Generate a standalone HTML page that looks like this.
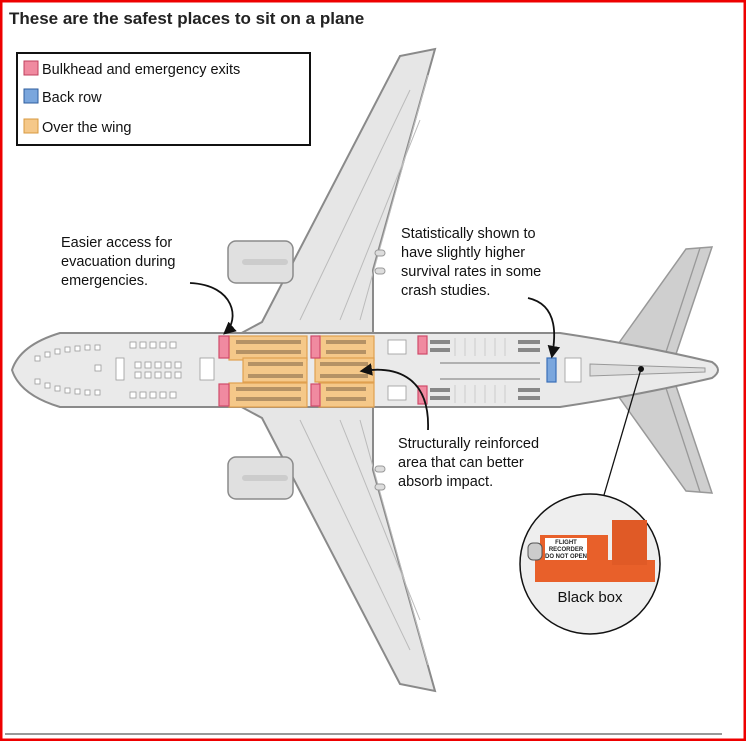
<!DOCTYPE html>
<html><head><meta charset="utf-8"><style>
html,body{margin:0;padding:0;background:#fff}
body{width:746px;height:741px;overflow:hidden}
svg{display:block}
text{font-family:"Liberation Sans",sans-serif}
</style></head><body>
<svg width="746" height="741" viewBox="0 0 746 741" xmlns="http://www.w3.org/2000/svg">
<rect x="1" y="1" width="744" height="739" fill="#fff" stroke="#e00" stroke-width="3"/>
<text x="9" y="24" font-size="17" font-weight="bold" fill="#222">These are the safest places to sit on a plane</text>
<defs>
<marker id="ah" viewBox="0 0 10 10" refX="8" refY="5" markerWidth="7" markerHeight="7" orient="auto"><path d="M0,0 L10,5 L0,10 z" fill="#111"/></marker>
</defs>
<!-- horizontal stabilizers -->
<g fill="#cfcfcf" stroke="#999" stroke-width="1.5">
<path d="M616,347 L686,249 L712,247 L675,357 Z"/>
<path d="M616,393 L686,491 L712,493 L675,383 Z"/>
</g>
<g stroke="#999" stroke-width="1.3"><path d="M700,248 L666,352 M700,492 L666,388"/></g>
<!-- wings -->
<g fill="#e6e6e6" stroke="#8a8a8a" stroke-width="2">
<path d="M236,336 L262,322 L400,56 L435,49 L373,270 L373,336 Z"/>
<path d="M236,404 L262,418 L400,684 L435,691 L373,470 L373,404 Z"/>
</g>
<g stroke="#bbb" stroke-width="1" fill="none">
<path d="M300,320 L410,90 M340,320 L420,120 M360,320 L428,75"/>
<path d="M300,420 L410,650 M340,420 L420,620 M360,420 L428,665"/>
</g>
<!-- engines -->
<g fill="#e0e0e0" stroke="#8a8a8a" stroke-width="1.5">
<rect x="228" y="241" width="65" height="42" rx="8"/>
<rect x="228" y="457" width="65" height="42" rx="8"/>
</g>
<g stroke="#ccc" stroke-width="6" stroke-linecap="round"><path d="M245,262 H285 M245,478 H285"/></g>
<g fill="#ddd" stroke="#999"><rect x="375" y="250" width="10" height="6" rx="3"/><rect x="375" y="268" width="10" height="6" rx="3"/><rect x="375" y="466" width="10" height="6" rx="3"/><rect x="375" y="484" width="10" height="6" rx="3"/></g>
<!-- fuselage -->
<path d="M60,333 L560,333 Q640,345 712,362 Q724,370 712,378 Q640,395 560,407 L60,407 Q20,395 12,370 Q20,345 60,333 Z" fill="#eaeaea" stroke="#8a8a8a" stroke-width="2"/>
<path d="M590,364 L705,368 L705,372 L590,376 Z" fill="#ddd" stroke="#999"/>
<!-- cabin seats gray -->
<g fill="#fff" stroke="#999" stroke-width="0.8">
<rect x="35" y="356" width="5" height="5"/><rect x="45" y="352" width="5" height="5"/><rect x="55" y="349" width="5" height="5"/><rect x="65" y="347" width="5" height="5"/><rect x="75" y="346" width="5" height="5"/><rect x="85" y="345" width="5" height="5"/><rect x="95" y="345" width="5" height="5"/>
<rect x="35" y="379" width="5" height="5"/><rect x="45" y="383" width="5" height="5"/><rect x="55" y="386" width="5" height="5"/><rect x="65" y="388" width="5" height="5"/><rect x="75" y="389" width="5" height="5"/><rect x="85" y="390" width="5" height="5"/><rect x="95" y="390" width="5" height="5"/>
<rect x="130" y="342" width="6" height="6"/><rect x="140" y="342" width="6" height="6"/><rect x="150" y="342" width="6" height="6"/><rect x="160" y="342" width="6" height="6"/><rect x="170" y="342" width="6" height="6"/>
<rect x="130" y="392" width="6" height="6"/><rect x="140" y="392" width="6" height="6"/><rect x="150" y="392" width="6" height="6"/><rect x="160" y="392" width="6" height="6"/><rect x="170" y="392" width="6" height="6"/>
<rect x="95" y="365" width="6" height="6"/><rect x="135" y="362" width="6" height="6"/><rect x="145" y="362" width="6" height="6"/><rect x="155" y="362" width="6" height="6"/><rect x="165" y="362" width="6" height="6"/><rect x="175" y="362" width="6" height="6"/>
<rect x="135" y="372" width="6" height="6"/><rect x="145" y="372" width="6" height="6"/><rect x="155" y="372" width="6" height="6"/><rect x="165" y="372" width="6" height="6"/><rect x="175" y="372" width="6" height="6"/>
<rect x="200" y="358" width="14" height="22"/><rect x="116" y="358" width="8" height="22"/>
</g>
<!-- orange zones -->
<g fill="#f5c889" stroke="#e0a050" stroke-width="1.2">
<rect x="229" y="336" width="78" height="24"/>
<rect x="319" y="336" width="55" height="24"/>
<rect x="243" y="358" width="64" height="24"/>
<rect x="315" y="358" width="59" height="24"/>
<rect x="229" y="383" width="78" height="24"/>
<rect x="319" y="383" width="55" height="24"/>
</g>
<g fill="#9a7a55">
<rect x="236" y="340" width="65" height="4" opacity=".7"/><rect x="236" y="350" width="65" height="4" opacity=".7"/>
<rect x="326" y="340" width="40" height="4" opacity=".7"/><rect x="326" y="350" width="40" height="4" opacity=".7"/>
<rect x="248" y="362" width="55" height="4" opacity=".7"/><rect x="248" y="374" width="55" height="4" opacity=".7"/>
<rect x="320" y="362" width="48" height="4" opacity=".7"/><rect x="320" y="374" width="48" height="4" opacity=".7"/>
<rect x="236" y="387" width="65" height="4" opacity=".7"/><rect x="236" y="397" width="65" height="4" opacity=".7"/>
<rect x="326" y="387" width="40" height="4" opacity=".7"/><rect x="326" y="397" width="40" height="4" opacity=".7"/>
</g>
<!-- pink exits -->
<g fill="#f08aa0" stroke="#d04a6a" stroke-width="1.2">
<rect x="219" y="336" width="10" height="22"/><rect x="219" y="384" width="10" height="22"/>
<rect x="311" y="336" width="9" height="22"/><rect x="311" y="384" width="9" height="22"/>
<rect x="418" y="336" width="9" height="18"/><rect x="418" y="386" width="9" height="18"/>
</g>
<!-- rear economy -->
<g fill="#888">
<rect x="430" y="340" width="20" height="4"/><rect x="430" y="348" width="20" height="4"/>
<rect x="430" y="388" width="20" height="4"/><rect x="430" y="396" width="20" height="4"/>
<rect x="518" y="340" width="22" height="4"/><rect x="518" y="348" width="22" height="4"/>
<rect x="518" y="388" width="22" height="4"/><rect x="518" y="396" width="22" height="4"/>
<rect x="440" y="362" width="100" height="2" opacity=".6"/><rect x="440" y="378" width="100" height="2" opacity=".6"/>
</g>
<g stroke="#ccc" stroke-width="1"><path d="M455,338 V356 M465,338 V356 M475,338 V356 M485,338 V356 M495,338 V356 M505,338 V356 M455,385 V403 M465,385 V403 M475,385 V403 M485,385 V403 M495,385 V403 M505,385 V403"/></g>
<rect x="547" y="358" width="9" height="24" fill="#7aa6dd" stroke="#3a6fb8" stroke-width="1.2"/>
<g fill="#fff" stroke="#999" stroke-width=".8"><rect x="565" y="358" width="16" height="24"/><rect x="388" y="340" width="18" height="14"/><rect x="388" y="386" width="18" height="14"/></g>
<!-- black box leader -->
<circle cx="641" cy="369" r="3" fill="#111"/>
<line x1="641" y1="369" x2="604" y2="495" stroke="#111" stroke-width="1.3"/>
<!-- callout arrows -->
<path d="M190,283 C235,285 240,320 225,333" fill="none" stroke="#111" stroke-width="1.8" marker-end="url(#ah)"/>
<path d="M528,298 C560,305 555,340 552,356" fill="none" stroke="#111" stroke-width="1.8" marker-end="url(#ah)"/>
<path d="M428,430 C430,380 400,365 362,371" fill="none" stroke="#111" stroke-width="1.8" marker-end="url(#ah)"/>
<!-- labels -->
<g font-size="14.5" fill="#111">
<text x="61" y="247">Easier access for</text><text x="61" y="266">evacuation during</text><text x="61" y="285">emergencies.</text>
<text x="401" y="238">Statistically shown to</text><text x="401" y="257">have slightly higher</text><text x="401" y="276">survival rates in some</text><text x="401" y="295">crash studies.</text>
<text x="398" y="448">Structurally reinforced</text><text x="398" y="467">area that can better</text><text x="398" y="486">absorb impact.</text>
</g>
<!-- black box circle -->
<circle cx="590" cy="564" r="70" fill="#eee" stroke="#111" stroke-width="1.5"/>
<rect x="535" y="560" width="120" height="22" fill="#e8602a"/>
<rect x="540" y="535" width="68" height="30" fill="#e8602a"/>
<rect x="612" y="520" width="35" height="45" fill="#e05a26"/>
<rect x="528" y="543" width="14" height="17" rx="5" fill="#ccc" stroke="#555"/>
<rect x="545" y="538" width="42" height="22" fill="#fff"/>
<g font-size="6" font-weight="bold" fill="#222" text-anchor="middle"><text x="566" y="544">FLIGHT</text><text x="566" y="551">RECORDER</text><text x="566" y="558">DO NOT OPEN</text></g>
<text x="590" y="602" font-size="15" fill="#111" text-anchor="middle">Black box</text>
<!-- legend -->
<rect x="17" y="53" width="293" height="92" fill="#fff" stroke="#111" stroke-width="2"/>
<rect x="24" y="61" width="14" height="14" fill="#f08aa0" stroke="#c0405e"/>
<rect x="24" y="89" width="14" height="14" fill="#7aa6dd" stroke="#2f5e9e"/>
<rect x="24" y="119" width="14" height="14" fill="#f5c889" stroke="#d89a40"/>
<g font-size="14.5" fill="#111"><text x="42" y="74">Bulkhead and emergency exits</text><text x="42" y="102">Back row</text><text x="42" y="132">Over the wing</text></g>
<line x1="5" y1="734" x2="722" y2="734" stroke="#333" stroke-width="1"/>
</svg>
</body></html>
